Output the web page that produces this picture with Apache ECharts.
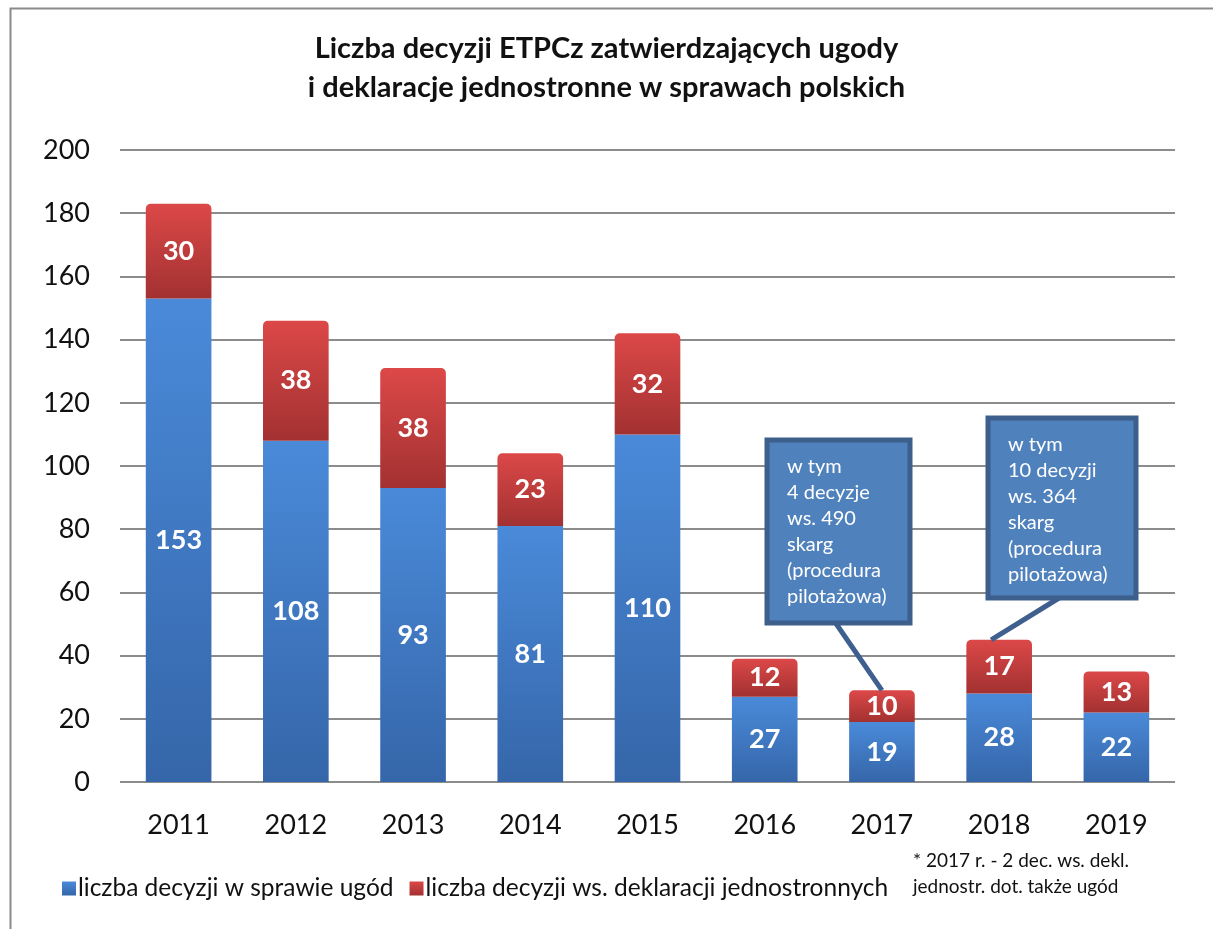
<!DOCTYPE html>
<html><head><meta charset="utf-8">
<script src="https://cdn.jsdelivr.net/npm/echarts@6/dist/echarts.min.js"></script>
<style>html,body{margin:0;padding:0;background:#fff}#c{width:1213px;height:929px}</style>
</head><body><div id="c"></div>
<script>
const years = ['2011','2012','2013','2014','2015','2016','2017','2018','2019'];
const ugody = [153,108,93,81,110,27,19,28,22];
const deklaracje = [30,38,38,23,32,12,10,17,13];
const yTicks = {min:0, max:200, interval:20};
const titleLines = ['Liczba decyzji ETPCz zatwierdzających ugody','i deklaracje jednostronne w sprawach polskich'];
const seriesNames = ['liczba decyzji w sprawie ugód','liczba decyzji ws. deklaracji jednostronnych'];
const footnote = ['* 2017 r. - 2 dec. ws. dekl.','jednostr. dot. także ugód'];
const notes = [
  {year:'2017', text:'w tym\n4 decyzje\nws. 490\nskarg\n(procedura\npilotażowa)'},
  {year:'2018', text:'w tym\n10 decyzji\nws. 364\nskarg\n(procedura\npilotażowa)'}
];
const FONT = 'Lato, "Open Sans", sans-serif';
const chart = echarts.init(document.getElementById('c'));
const blueGrad = new echarts.graphic.LinearGradient(0,0,0,1,[{offset:0,color:'#4a8ad9'},{offset:1,color:'#3566a9'}]);
const redGrad = new echarts.graphic.LinearGradient(0,0,0,1,[{offset:0,color:'#dc4848'},{offset:1,color:'#a33131'}]);
const lbl = {show:true, position:'inside', color:'#fff', fontWeight:'bold', fontSize:27, fontFamily:FONT};
chart.setOption({
  animation:false,
  title:{text:titleLines.join('\n'), left:'center', top:24, textStyle:{fontFamily:FONT, fontWeight:'bold', fontSize:29, color:'#111', lineHeight:39}},
  grid:{left:120, right:38, top:150, bottom:147},
  legend:{left:57, top:871, itemWidth:14, itemHeight:14, itemGap:16, icon:'rect',
    textStyle:{fontFamily:FONT, fontSize:24.5, color:'#111', padding:[0,0,0,-3]},
    data:seriesNames},
  xAxis:{type:'category', data:years, axisTick:{show:false}, axisLine:{show:false},
    axisLabel:{fontFamily:FONT, fontSize:27, color:'#111', margin:30}},
  yAxis:{type:'value', min:yTicks.min, max:yTicks.max, interval:yTicks.interval,
    axisLine:{show:false}, axisTick:{show:false},
    axisLabel:{fontFamily:FONT, fontSize:27, color:'#111', margin:30},
    splitLine:{lineStyle:{color:'#8c8c8c', width:2}}},
  series:[
    {name:seriesNames[0], type:'bar', stack:'a', data:ugody, barWidth:'56%',
      itemStyle:{color:blueGrad}, label:lbl},
    {name:seriesNames[1], type:'bar', stack:'a', data:deklaracje,
      itemStyle:{color:redGrad, borderRadius:[5,5,0,0]}, label:lbl}
  ]
});
function place(){
  const g = [
    {type:'rect', left:8, top:6, shape:{width:1215, height:930}, style:{fill:'none', stroke:'#8a8a8a', lineWidth:2}, z:-1, silent:true},
    {type:'text', left:913, top:848, style:{text:footnote.join('\n'), font:'19px '+FONT, fill:'#111', lineHeight:26}}
  ];
  const boxes = [{x:767,y:440,w:143,h:183},{x:988,y:418,w:148,h:180}];
  notes.forEach((n,i)=>{
    const idx = years.indexOf(n.year);
    const top = chart.convertToPixel({xAxisIndex:0,yAxisIndex:0},[idx, ugody[idx]+deklaracje[idx]]);
    const b = boxes[i];
    const start = [b.x + b.w*0.48, b.y + b.h];
    const endX = i===0 ? top[0] : top[0]-8;
    g.push({type:'line', shape:{x1:start[0], y1:start[1], x2:endX, y2:top[1]}, style:{stroke:'#3f5f8e', lineWidth:5}, z:10});
    g.push({type:'rect', shape:{x:b.x, y:b.y, width:b.w, height:b.h}, style:{fill:'#4f81bd', stroke:'#3d5f8c', lineWidth:5}, z:11});
    g.push({type:'text', x:b.x+20, y:b.y+14, style:{text:n.text, font:'20px '+FONT, fill:'#fff', lineHeight:26}, z:12});
  });
  chart.setOption({graphic:g});
}
place();
</script></body></html>
